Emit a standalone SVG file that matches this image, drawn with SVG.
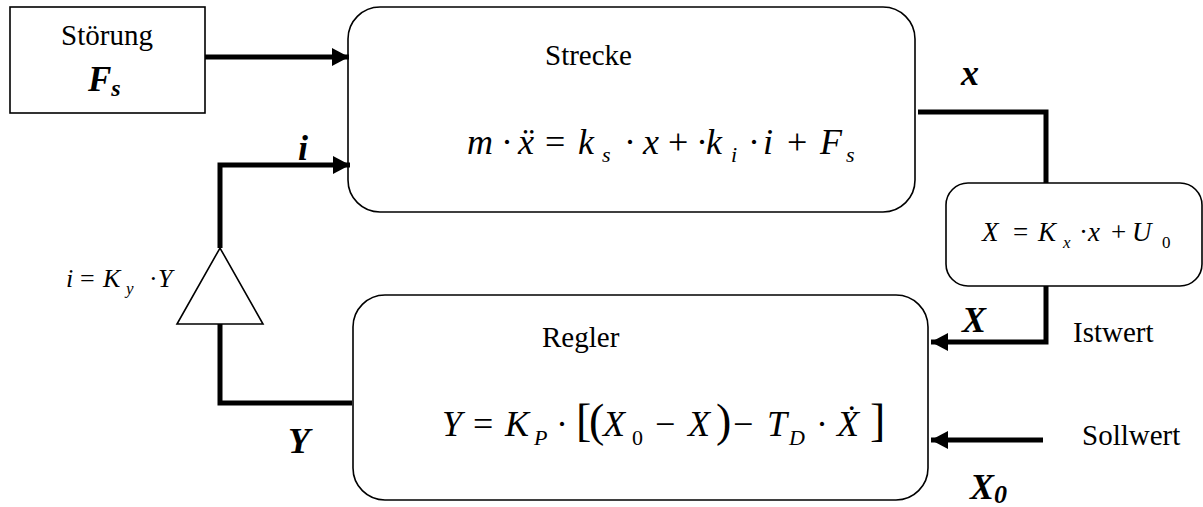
<svg xmlns="http://www.w3.org/2000/svg" width="1203" height="507" viewBox="0 0 1203 507" font-family="'Liberation Serif', 'Times New Roman', serif">
<defs>
<style>
.box{fill:#fff;stroke:#000;stroke-width:1.6}
.wire{fill:none;stroke:#000;stroke-width:5;stroke-linejoin:miter}
.t{font-size:29px}
.f{font-size:36px;font-style:italic}
.up{font-style:normal}
.sub{font-size:22px}
.bl{font-size:36px;font-style:italic;font-weight:bold}
.br{font-size:46px;font-style:normal}
</style>
<marker id="ah" markerUnits="userSpaceOnUse" markerWidth="20" markerHeight="20" refX="17" refY="9" orient="auto">
<path d="M0,0 L17,9 L0,18 Z" fill="#000"/>
</marker>
</defs>
<rect width="1203" height="507" fill="#fff"/>
<g id="stoerung">
<rect class="box" x="10" y="7" width="195" height="106"/>
<text class="t" x="107" y="45" text-anchor="middle">Störung</text>
<text class="bl" x="88" y="91" style="font-size:35px">F<tspan style="font-size:24px" dy="5">s</tspan></text>
</g>
<g id="strecke">
<rect class="box" x="348" y="7" width="567" height="205" rx="32"/>
<text class="t" x="545" y="65">Strecke</text>
<text class="f" y="154"><tspan x="467">m</tspan><tspan class="up" x="501">·</tspan><tspan x="518">ẍ</tspan><tspan class="up" x="545">=</tspan><tspan x="578">k</tspan><tspan class="sub" x="602" y="162">s</tspan><tspan class="up" x="624" y="154">·</tspan><tspan x="643">x</tspan><tspan class="up" x="668">+</tspan><tspan class="up" x="696">·</tspan><tspan x="706">k</tspan><tspan class="sub" x="731" y="162">i</tspan><tspan class="up" x="748" y="154">·</tspan><tspan x="763">i</tspan><tspan class="up" x="787">+</tspan><tspan x="820">F</tspan><tspan class="sub" x="846" y="162">s</tspan></text>
</g>
<g id="sensor">
<rect class="box" x="946" y="183" width="256" height="103" rx="22"/>
<text class="f" y="241" style="font-size:27px"><tspan x="982">X</tspan><tspan class="up" x="1013">=</tspan><tspan x="1038">K</tspan><tspan style="font-size:17px" x="1063" y="248">x</tspan><tspan class="up" x="1079" y="241">·</tspan><tspan x="1088">x</tspan><tspan class="up" x="1111">+</tspan><tspan x="1132">U</tspan><tspan class="up" style="font-size:17px" x="1162" y="248">0</tspan></text>
</g>
<g id="regler">
<rect class="box" x="353" y="295" width="575" height="205" rx="32"/>
<text class="t" x="542" y="347">Regler</text>
<text class="f" y="436"><tspan x="442">Y</tspan><tspan class="up" x="473">=</tspan><tspan x="505">K</tspan><tspan class="sub" x="534" y="445">P</tspan><tspan class="up" x="556" y="436">·</tspan><tspan class="br" x="576">[</tspan><tspan class="br" x="589">(</tspan><tspan x="603">X</tspan><tspan class="sub up" x="632" y="445">0</tspan><tspan class="up" x="655" y="436">−</tspan><tspan x="688">X</tspan><tspan class="br" x="716">)</tspan><tspan class="up" x="733">−</tspan><tspan x="767">T</tspan><tspan class="sub" x="789" y="445">D</tspan><tspan class="up" x="816" y="436">·</tspan><tspan x="837">Ẋ</tspan><tspan class="br" x="870">]</tspan></text>
</g>
<g id="verstaerker">
<polygon class="box" points="177,324 263,324 220,248"/>
<text class="f" y="287" style="font-size:26px"><tspan x="66">i</tspan><tspan class="up" x="80">=</tspan><tspan x="103">K</tspan><tspan style="font-size:17px" x="126" y="294">y</tspan><tspan class="up" x="149" y="287">·</tspan><tspan x="158">Y</tspan></text>
</g>
<g id="connectors">
<line class="wire" x1="205" y1="57" x2="349" y2="57" marker-end="url(#ah)"/>
<polyline class="wire" points="220,248 220,165 350,165" marker-end="url(#ah)"/>
<polyline class="wire" points="918,112 1046,112 1046,183"/>
<polyline class="wire" points="1046,286 1046,342 931,342" marker-end="url(#ah)"/>
<line class="wire" x1="1043" y1="440" x2="931" y2="440" marker-end="url(#ah)"/>
<polyline class="wire" points="352,403 220,403 220,324"/>
</g>
<g id="labels">
<text class="bl" x="961" y="85">x</text>
<text class="bl" x="298" y="160">i</text>
<text class="bl" x="962" y="332">X</text>
<text class="bl" x="288" y="453">Y</text>
<text class="bl" x="970" y="499">X<tspan style="font-size:26px" dy="4">0</tspan></text>
<text class="t" x="1073" y="342">Istwert</text>
<text class="t" x="1082" y="445">Sollwert</text>
</g>
</svg>
